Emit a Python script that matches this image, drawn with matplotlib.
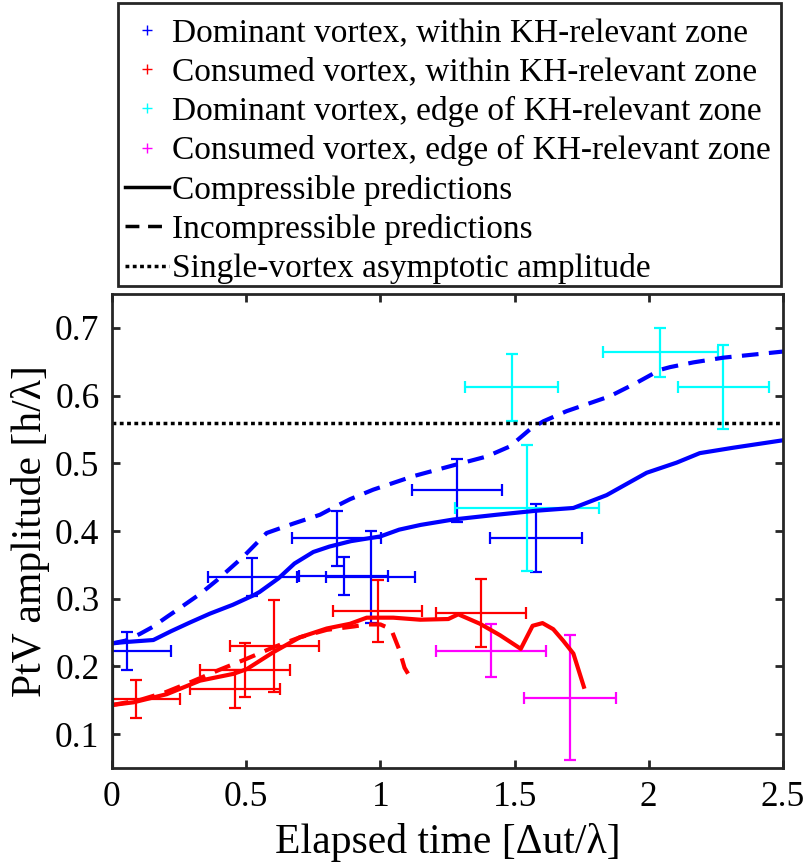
import numpy as np
import matplotlib
matplotlib.use("Agg")
import matplotlib.pyplot as plt
from matplotlib.lines import Line2D
from matplotlib.patches import Rectangle

plt.rcParams['font.family'] = ['Liberation Serif', 'DejaVu Serif']

# error-bar data (centre, symmetric half-widths)
dom_in_x = [0.055, 0.523, 0.837, 0.863, 0.964, 1.284, 1.580]
dom_in_y = [0.223, 0.332, 0.389, 0.334, 0.332, 0.460, 0.390]
dom_in_xe = [0.165, 0.165, 0.166, 0.165, 0.165, 0.168, 0.170]
dom_in_ye = [0.028, 0.028, 0.040, 0.028, 0.068, 0.046, 0.050]

con_in_x = [0.089, 0.459, 0.496, 0.604, 0.990, 1.374]
con_in_y = [0.152, 0.167, 0.195, 0.230, 0.282, 0.279]
con_in_xe = [0.164, 0.168, 0.169, 0.166, 0.165, 0.168]
con_in_ye = [0.028, 0.028, 0.040, 0.068, 0.046, 0.050]

dom_edge_x = [1.489, 1.545, 2.042, 2.278]
dom_edge_y = [0.612, 0.434, 0.664, 0.612]
dom_edge_xe = [0.172, 0.268, 0.214, 0.170]
dom_edge_ye = [0.050, 0.093, 0.036, 0.062]

con_edge_x = [1.412, 1.706]
con_edge_y = [0.223, 0.154]
con_edge_xe = [0.205, 0.172]
con_edge_ye = [0.039, 0.092]

# prediction curves
dom_comp_t = [0, 0.05, 0.154, 0.22, 0.291, 0.365, 0.45, 0.527, 0.55, 0.62, 0.68, 0.75, 0.81,
              0.89, 1.0, 1.07, 1.15, 1.272, 1.433, 1.582, 1.719, 1.843, 1.992, 2.104, 2.19, 2.315, 2.5]
dom_comp_a = [0.234, 0.236, 0.239, 0.252, 0.265, 0.278, 0.291, 0.305, 0.310, 0.330, 0.352, 0.369, 0.377,
              0.385, 0.392, 0.402, 0.409, 0.417, 0.424, 0.430, 0.434, 0.453, 0.486, 0.501, 0.515, 0.523, 0.534]

dom_inc_t = [0, 0.05, 0.104, 0.15, 0.204, 0.241, 0.328, 0.39, 0.489, 0.576, 0.676, 0.775, 0.837, 0.887,
             0.973, 1.123, 1.272, 1.396, 1.483, 1.557, 1.607, 1.694, 1.855, 1.955, 2.042, 2.079, 2.166,
             2.278, 2.377, 2.5]
dom_inc_a = [0.234, 0.238, 0.248, 0.258, 0.273, 0.283, 0.307, 0.327, 0.362, 0.397, 0.411, 0.424, 0.437, 0.447,
             0.461, 0.481, 0.497, 0.510, 0.525, 0.550, 0.562, 0.577, 0.599, 0.619, 0.638, 0.642, 0.649,
             0.656, 0.660, 0.665]

con_comp_t = [0, 0.08, 0.204, 0.328, 0.452, 0.502, 0.601, 0.70, 0.80, 0.887, 0.949, 1.048, 1.148, 1.253,
              1.29, 1.371, 1.446, 1.523, 1.567, 1.604, 1.644, 1.681, 1.719, 1.758]
con_comp_a = [0.143, 0.147, 0.159, 0.179, 0.189, 0.196, 0.221, 0.243, 0.256, 0.263, 0.272, 0.272, 0.269, 0.270,
              0.277, 0.263, 0.246, 0.226, 0.260, 0.264, 0.255, 0.238, 0.219, 0.170]

con_inc_t = [0, 0.1, 0.2, 0.3, 0.4, 0.5, 0.6, 0.7, 0.8, 0.9, 0.95, 1.0, 1.04, 1.07, 1.09, 1.12]
con_inc_a = [0.143, 0.150, 0.162, 0.178, 0.195, 0.211, 0.228, 0.243, 0.254, 0.259, 0.262, 0.262, 0.255,
             0.225, 0.198, 0.178]

asym_amp = 0.56

fig = plt.figure(figsize=(8.09, 8.67), dpi=100)
ax = fig.add_axes([112/809, 1-768/867, 671/809, 474/867])

eb = dict(fmt='none', capsize=4, elinewidth=1.6, capthick=1.6)
ax.errorbar(dom_in_x, dom_in_y, yerr=dom_in_ye, xerr=dom_in_xe, ecolor='#0000ff', **eb)
ax.errorbar(con_in_x, con_in_y, yerr=con_in_ye, xerr=con_in_xe, ecolor='#ff0000', **eb)
ax.errorbar(dom_edge_x, dom_edge_y, yerr=dom_edge_ye, xerr=dom_edge_xe, ecolor='#00ffff', **eb)
ax.errorbar(con_edge_x, con_edge_y, yerr=con_edge_ye, xerr=con_edge_xe, ecolor='#ff00ff', **eb)

ax.plot(dom_comp_t, dom_comp_a, color='#0000ff', lw=3)
ax.plot(dom_inc_t, dom_inc_a, color='#0000ff', lw=3, dashes=(4, 2.5))
ax.plot(con_comp_t, con_comp_a, color='#ff0000', lw=3)
ax.plot(con_inc_t, con_inc_a, color='#ff0000', lw=3, dashes=(4, 2.5))
ax.axhline(asym_amp, color='k', lw=2.5, dashes=(1.1, 1.0))
# legend dummy lines at t = 0
ax.plot([0, 0], [0.0, 0.2], color='k', lw=3)

ax.set_xlim(0, 2.5)
ax.set_ylim(0.05, 0.75)
ax.set_xticks([0, 0.5, 1, 1.5, 2, 2.5])
ax.set_xticklabels(['0', '0.5', '1', '1.5', '2', '2.5'])
ax.set_yticks([0.1, 0.2, 0.3, 0.4, 0.5, 0.6, 0.7])
ax.tick_params(direction='in', length=6, width=2, labelsize=25.5, color='#262626',
               top=True, right=True, pad=9)
for s in ax.spines.values():
    s.set_linewidth(2)
    s.set_color('#262626')
ax.set_xlabel('Elapsed time [\u0394ut/\u03bb]', fontsize=30, labelpad=7)
ax.set_ylabel('PtV amplitude [h/\u03bb]', fontsize=30, labelpad=4)

handles = [
    Line2D([], [], color='#0000ff', marker='+', ls='none', markersize=7),
    Line2D([], [], color='#ff0000', marker='+', ls='none', markersize=7),
    Line2D([], [], color='#00ffff', marker='+', ls='none', markersize=7),
    Line2D([], [], color='#ff00ff', marker='+', ls='none', markersize=7),
    Line2D([], [], color='k', lw=2.5),
    Line2D([], [], color='k', lw=2.5, dashes=(4, 2.5)),
    Line2D([], [], color='k', lw=2.5, dashes=(1.1, 1.0)),
]
labels = ['Dominant vortex, within KH-relevant zone',
          'Consumed vortex, within KH-relevant zone',
          'Dominant vortex, edge of KH-relevant zone',
          'Consumed vortex, edge of KH-relevant zone',
          'Compressible predictions',
          'Incompressible predictions',
          'Single-vortex asymptotic amplitude']
leg = fig.legend(handles, labels, loc='upper left', bbox_to_anchor=(117/809, 1-10/867),
                 fontsize=24, frameon=False,
                 handlelength=1.32, handletextpad=0.08, labelspacing=0.25,
                 borderpad=0.25, borderaxespad=0)
# legend box drawn by hand so its size matches
fig.patches.append(Rectangle((118/809, 1-286/867), 663/809, 283/867, transform=fig.transFigure,
                             fill=False, edgecolor='#262626', linewidth=2))

fig.savefig('out.png', dpi=100)
